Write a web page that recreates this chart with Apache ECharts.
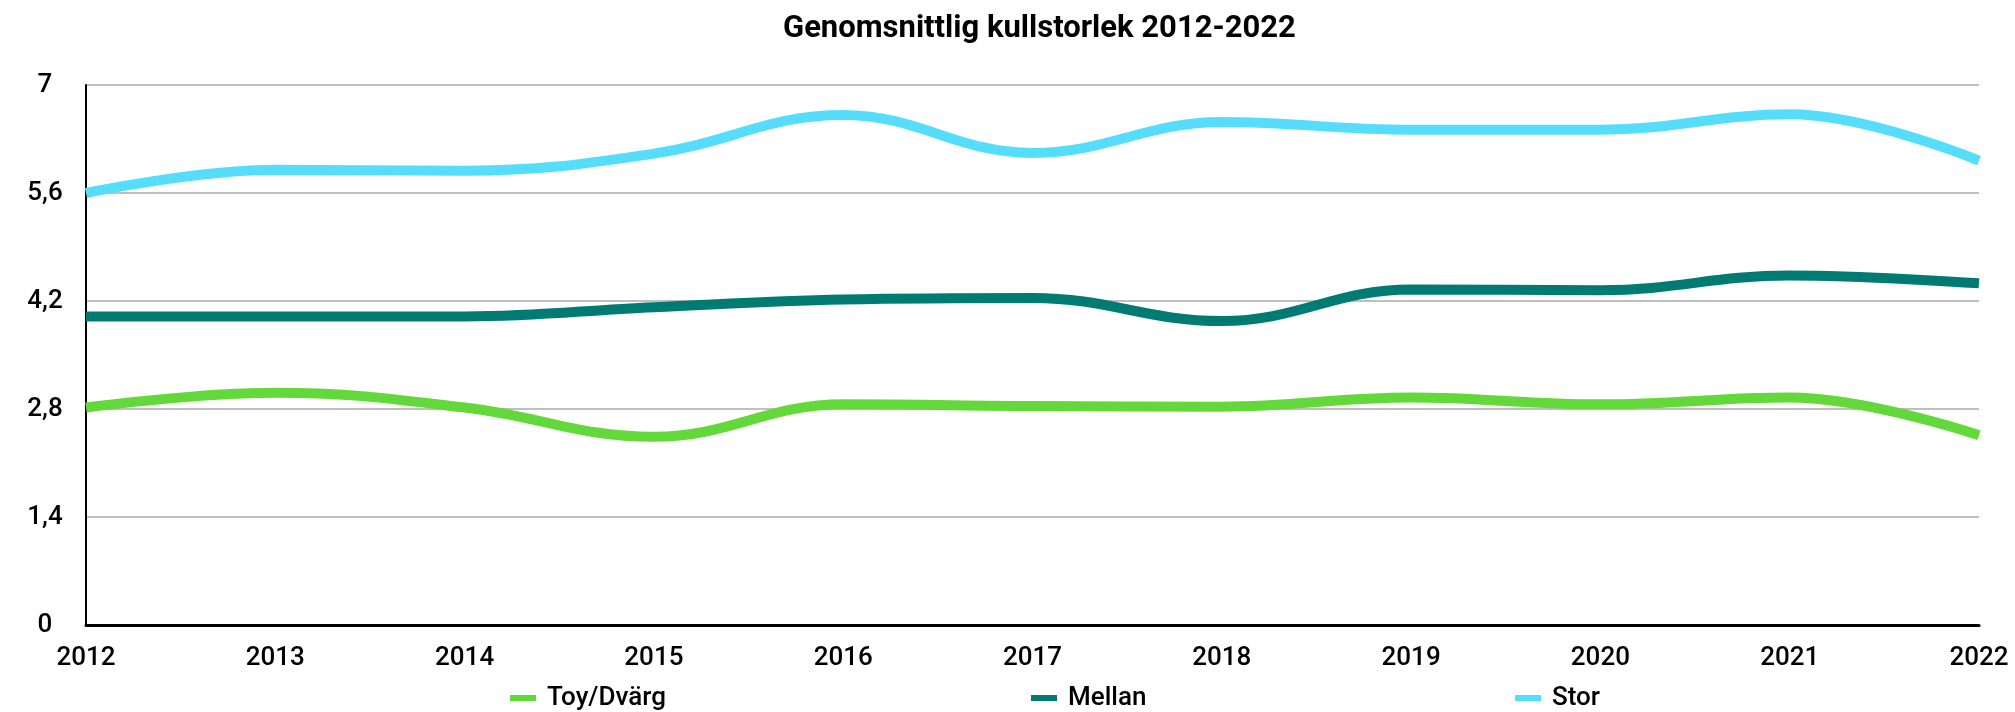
<!DOCTYPE html>
<html>
<head>
<meta charset="utf-8">
<title>Genomsnittlig kullstorlek 2012-2022</title>
<script src="https://cdn.jsdelivr.net/npm/echarts@6/dist/echarts.min.js"></script>
<style>
    html, body {margin: 0; padding: 0; background: #fff;}
    .chart {width: 2015px; height: 712px;}
</style>
</head>
<body>
<div class="chart"></div>
<script>
let years = ["2012", "2013", "2014", "2015", "2016", "2017", "2018", "2019", "2020", "2021", "2022"];
let toyDvarg = [2.82, 3.01, 2.82, 2.44, 2.86, 2.84, 2.83, 2.95, 2.86, 2.95, 2.46];
let mellan = [4.0, 4.0, 4.0, 4.12, 4.22, 4.24, 3.94, 4.35, 4.34, 4.53, 4.43];
let stor = [5.6, 5.9, 5.89, 6.11, 6.61, 6.12, 6.52, 6.42, 6.42, 6.62, 6.02];
let seriesNames = ["Toy/Dvärg", "Mellan", "Stor"];
let colors = ["#63d83a", "#007b74", "#57ddfc"];
let legendLeft = [505, 1026, 1510];

let labelFont = "Roboto, 'DejaVu Sans', sans-serif";

let myEcharts = echarts.init(document.querySelector(".chart"), null, {renderer: "canvas"});

//en serie per storlek
function makeLine(name, data, color) {
    return {
        name: name,
        type: "line",
        data: data,
        smooth: 0.4,
        showSymbol: false,
        symbol: "none",
        lineStyle: {width: 10, color: color, cap: "butt"},
        itemStyle: {color: color}
    };
}

//legender, en per serie
function makeLegend(name, left) {
    return {
        data: [name],
        left: left,
        top: 680,
        icon: "rect",
        itemWidth: 26,
        itemHeight: 6,
        textStyle: {
            fontFamily: labelFont,
            fontWeight: 500,
            fontSize: 26,
            color: "#000",
            padding: [0, 0, 0, 6]
        }
    };
}

let option = {
    animation: false,
    backgroundColor: "#fff",
    color: colors,
    title: {
        text: "Genomsnittlig kullstorlek 2012-2022",
        left: 778,
        top: 9,
        textStyle: {
            fontFamily: "Roboto, sans-serif",
            fontWeight: "bold",
            fontSize: 31,
            color: "#000"
        }
    },
    legend: seriesNames.map(function (n, i) {
        return makeLegend(n, legendLeft[i]);
    }),
    grid: {
        left: 86,
        right: 36,
        top: 85,
        bottom: 87,
        containLabel: false
    },
    xAxis: {
        type: "category",
        data: years,
        boundaryGap: false,
        axisLine: {show: true, lineStyle: {color: "#000", width: 3}},
        axisTick: {show: false},
        axisLabel: {
            margin: 20,
            fontFamily: labelFont,
            fontWeight: 500,
            fontSize: 26,
            color: "#000"
        },
        splitLine: {show: false}
    },
    yAxis: {
        type: "value",
        min: 0,
        max: 7,
        interval: 1.4,
        axisLine: {show: true, lineStyle: {color: "#000", width: 2}},
        axisTick: {show: false},
        axisLabel: {
            margin: 41,
            align: "center",
            fontFamily: labelFont,
            fontWeight: 500,
            fontSize: 26,
            color: "#000",
            formatter: function (v) {
                return String(+v.toFixed(1)).replace(".", ",");
            }
        },
        splitLine: {show: true, lineStyle: {color: "#bfbfbf", width: 2}}
    },
    series: [
        makeLine(seriesNames[0], toyDvarg, colors[0]),
        makeLine(seriesNames[1], mellan, colors[1]),
        makeLine(seriesNames[2], stor, colors[2])
    ]
};
myEcharts.setOption(option);
</script>
</body>
</html>
